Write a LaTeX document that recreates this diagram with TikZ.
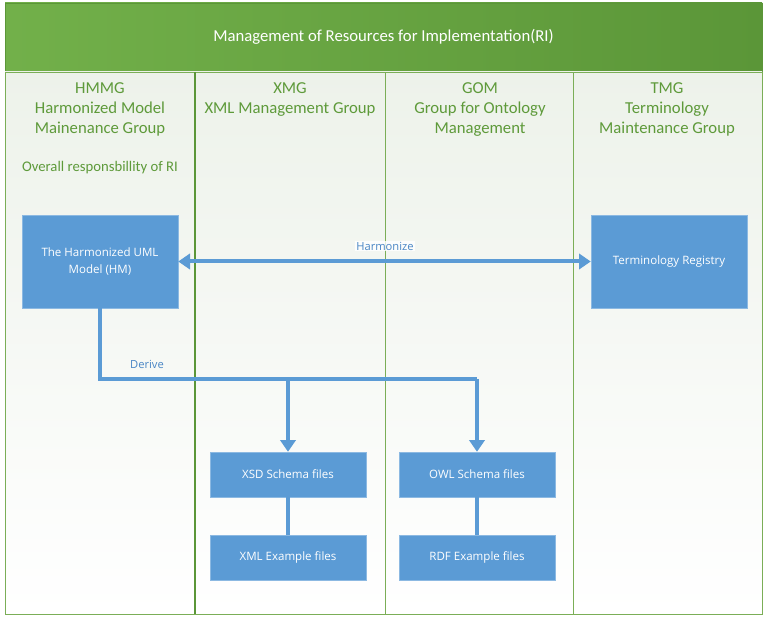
\documentclass[tikz,border=0pt]{standalone}
\usepackage{fontspec}
\setmainfont{Carlito}
\newfontfamily\boxfont{Open Sans}
\usetikzlibrary{arrows.meta}

\definecolor{hdrlight}{HTML}{72B04A}
\definecolor{hdrdark}{HTML}{5B9638}
\definecolor{lanegreen}{HTML}{7BAE57}
\definecolor{lanebg}{HTML}{EDF2EA}
\definecolor{titlegreen}{HTML}{5E9A3A}
\definecolor{boxblue}{HTML}{5B9BD5}
\definecolor{labelblue}{HTML}{4A86C5}

\tikzset{
  lane/.style={draw=lanegreen, line width=0.8pt, top color=lanebg, bottom color=white},
  lanetitle/.style={anchor=north, align=center, text=titlegreen,
    font=\fontsize{14.2}{17}\selectfont},
  resbox/.style={draw=boxblue!70!white, fill=boxblue, text=white, align=center,
    font=\boxfont\fontsize{9.8}{14.5}\selectfont, inner sep=0pt},
  bigbox/.style={resbox, minimum width=132.6pt, minimum height=79pt},
  filebox/.style={resbox, minimum width=132.6pt, minimum height=38.2pt},
  flow/.style={boxblue, line width=3.4pt},
  tip/.tip={Triangle[length=10pt,width=13pt]},
  flowlabel/.style={text=labelblue, font=\boxfont\fontsize{9.5}{11}\selectfont, inner sep=1pt},
}

\begin{document}
\begin{tikzpicture}[x=0.85pt, y=-0.85pt]
  \useasboundingbox (0,0) rectangle (767,617);

  % header
  \shade[left color=hdrlight, right color=hdrdark, draw=hdrdark] (5,3) rectangle (762,72);
  \node[text=white, font=\fontsize{14.2}{16}\selectfont] (title) at (383.5,37)
    {Management of Resources for Implementation(RI)};

  % lanes
  \draw[lane] (5,72)   rectangle (195,614);
  \draw[lane] (195,72) rectangle (385,614);
  \draw[lane] (385,72) rectangle (573,614);
  \draw[lane] (573,72) rectangle (762,614);
  \draw[hdrdark, line width=1pt] (195,72) -- (195,614);

  \node[lanetitle] (hmmg) at (100,79) {HMMG\\Harmonized Model\\Mainenance Group};
  \node[lanetitle] (xmg)  at (290,79) {XMG\\XML Management Group};
  \node[lanetitle] (gom)  at (480,79) {GOM\\Group for Ontology\\Management};
  \node[lanetitle] (tmg)  at (667,79) {TMG\\Terminology\\Maintenance Group};
  \node[text=titlegreen, font=\fontsize{12.5}{14}\selectfont] (resp) at (100,168)
    {Overall responsbillity of RI};

  % resources
  \node[bigbox] (hm)  at (100,261.5) {The Harmonized UML\\Model (HM)};
  \node[bigbox] (reg) at (669,261.5) {Terminology Registry};
  \node[filebox] (xsd) at (288,474.5) {XSD Schema files};
  \node[filebox] (xml) at (288,557.5) {XML Example files};
  \node[filebox] (owl) at (477,474.5) {OWL Schema files};
  \node[filebox] (rdf) at (477,557.5) {RDF Example files};

  % connectors
  \draw[flow, tip-tip] (hm) -- (reg);
  \node[flowlabel, fill=white, fill opacity=0.8, text opacity=1] (harm) at (385,246) {Harmonize};

  \coordinate (bus) at (477,379);
  \draw[flow] (hm.south) |- (bus);
  \draw[flow, -tip] (xsd.north |- bus) -- (xsd.north);
  \draw[flow, -tip] (bus) -- (owl.north);
  \node[flowlabel] (derive) at (147,364) {Derive};

  \draw[flow] (xsd) -- (xml);
  \draw[flow] (owl) -- (rdf);
\end{tikzpicture}
\end{document}
